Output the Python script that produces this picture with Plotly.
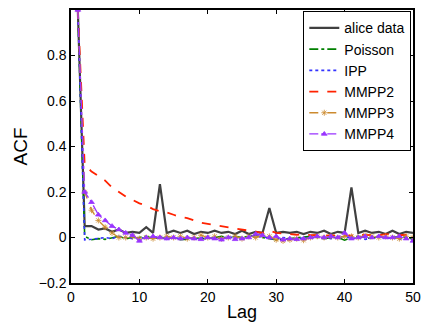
import plotly.graph_objects as go

lags = list(range(1, 51))

alice = [1.0, 0.05, 0.05, 0.035, 0.04, 0.025, 0.035, 0.02, 0.025, 0.02,
         0.045, 0.02, 0.235, 0.02, 0.03, 0.02, 0.03, 0.015, 0.025, 0.02,
         0.03, 0.02, 0.025, 0.015, 0.03, 0.015, 0.025, 0.02, 0.13, 0.02,
         0.025, 0.02, 0.025, 0.015, 0.025, 0.02, 0.03, 0.015, 0.025, 0.02,
         0.22, 0.02, 0.03, 0.02, 0.025, 0.015, 0.03, 0.015, 0.025, 0.02]

poisson = [1.0, 0.005, -0.01, -0.005, -0.008, 0.0, 0.005, -0.005, 0.0, 0.0,
           0.005, -0.005, 0.0, -0.005, 0.0, -0.01, -0.008, 0.0, -0.005, -0.005,
           0.0, 0.005, 0.0, 0.005, 0.0, 0.005, 0.01, 0.0, -0.005, -0.01,
           -0.008, -0.005, 0.0, 0.002, 0.005, 0.0, -0.005, 0.0, 0.0, -0.012,
           0.0, 0.005, 0.0, -0.005, 0.005, -0.002, 0.0, 0.005, 0.0, -0.005]

ipp = [1.0, -0.01, -0.008, -0.005, 0.0, -0.005, 0.005, 0.0, -0.005, 0.0,
       -0.005, 0.0, 0.005, -0.008, 0.0, -0.005, 0.0, -0.008, 0.0, 0.005,
       -0.005, 0.0, 0.002, 0.0, -0.005, 0.005, 0.0, 0.005, -0.005, -0.008,
       0.0, -0.005, -0.01, 0.0, -0.005, 0.005, 0.0, -0.005, 0.0, 0.005,
       -0.005, 0.0, -0.008, 0.0, 0.005, -0.005, 0.0, -0.008, 0.0, -0.01]

mmpp2 = [1.0, 0.32, 0.29, 0.27, 0.25, 0.22, 0.2, 0.18, 0.165, 0.15,
         0.14, 0.125, 0.115, 0.11, 0.1, 0.09, 0.085, 0.075, 0.065, 0.06,
         0.055, 0.05, 0.045, 0.04, 0.035, 0.03, 0.025, 0.02, 0.03, 0.02,
         0.018, 0.015, 0.012, 0.015, 0.01, 0.012, 0.01, 0.008, 0.01, 0.01,
         0.008, 0.012, 0.01, 0.012, 0.01, 0.015, 0.012, 0.01, 0.012, 0.02]

mmpp3 = [1.0, 0.2, 0.12, 0.075, 0.045, 0.02, 0.0, 0.0, 0.005, -0.005,
         0.0, -0.005, 0.0, 0.005, 0.0, 0.005, -0.005, 0.0, 0.01, 0.0,
         0.005, -0.005, 0.0, 0.005, -0.005, 0.005, 0.0, 0.01, 0.005, -0.01,
         -0.015, -0.01, -0.005, -0.012, 0.0, 0.005, 0.0, 0.005, 0.0, 0.005,
         0.005, 0.0, 0.01, 0.005, 0.0, 0.005, 0.0, -0.005, 0.005, 0.0]

mmpp4 = [1.0, 0.2, 0.155, 0.1, 0.075, 0.05, 0.035, 0.02, 0.01, -0.015,
         0.0, 0.005, 0.0, -0.005, 0.0, -0.005, 0.0, -0.005, -0.008, 0.0,
         -0.005, -0.01, 0.0, -0.008, -0.005, 0.0, 0.015, 0.01, 0.0, 0.005,
         -0.01, -0.005, -0.008, -0.005, 0.0, 0.005, 0.0, 0.005, 0.0, 0.02,
         -0.005, 0.0, 0.005, 0.0, 0.005, 0.0, 0.0, 0.005, -0.005, -0.015]

series = [
    ("alice data", alice, "#404040", "solid", 2.2, None),
    ("Poisson", poisson, "#008000", "dashdot", 1.6, None),
    ("IPP", ipp, "#3333ff", "dot", 1.6, None),
    ("MMPP2", mmpp2, "#ff2200", "dash", 1.8, None),
    ("MMPP3", mmpp3, "#cc8a2e", "dash", 1.3, "asterisk-open"),
    ("MMPP4", mmpp4, "#9933ff", "dashdot", 1.3, "triangle-up"),
]

fig = go.Figure()
for name, vals, color, dash, width, marker in series:
    if marker:
        fig.add_trace(go.Scatter(
            x=lags, y=vals, name=name, mode="lines+markers",
            line=dict(color=color, dash=dash, width=width),
            marker=dict(symbol=marker, size=5, color=color,
                        line=dict(color=color, width=0.8))))
    else:
        fig.add_trace(go.Scatter(
            x=lags, y=vals, name=name, mode="lines",
            line=dict(color=color, dash=dash, width=width)))

axis_common = dict(
    showline=True, linecolor="black", linewidth=1.5, mirror="ticks",
    ticks="inside", ticklen=4, tickcolor="black", showgrid=False,
    zeroline=False, tickfont=dict(family="Liberation Sans, Arial", size=14, color="black"),
)

fig.update_layout(
    width=428, height=329,
    margin=dict(l=71, r=7, t=10, b=46),
    paper_bgcolor="white", plot_bgcolor="white",
    font=dict(family="Liberation Sans, Arial", color="black"),
    xaxis=dict(range=[0, 50], tickvals=[0, 10, 20, 30, 40, 50],
               title=dict(text="Lag", font=dict(size=18), standoff=2), **axis_common),
    yaxis=dict(range=[-0.2, 1.0], tickvals=[-0.2, 0, 0.2, 0.4, 0.6, 0.8],
               ticktext=["\u22120.2", "0", "0.2", "0.4", "0.6", "0.8"],
               title=dict(text="ACF", font=dict(size=19), standoff=6), **axis_common),
    legend=dict(x=0.995, y=0.995, xanchor="right", yanchor="top",
                bgcolor="white", bordercolor="black", borderwidth=1,
                font=dict(size=14), tracegroupgap=0, itemwidth=30),
    showlegend=True,
)

fig.write_html("out.html")
